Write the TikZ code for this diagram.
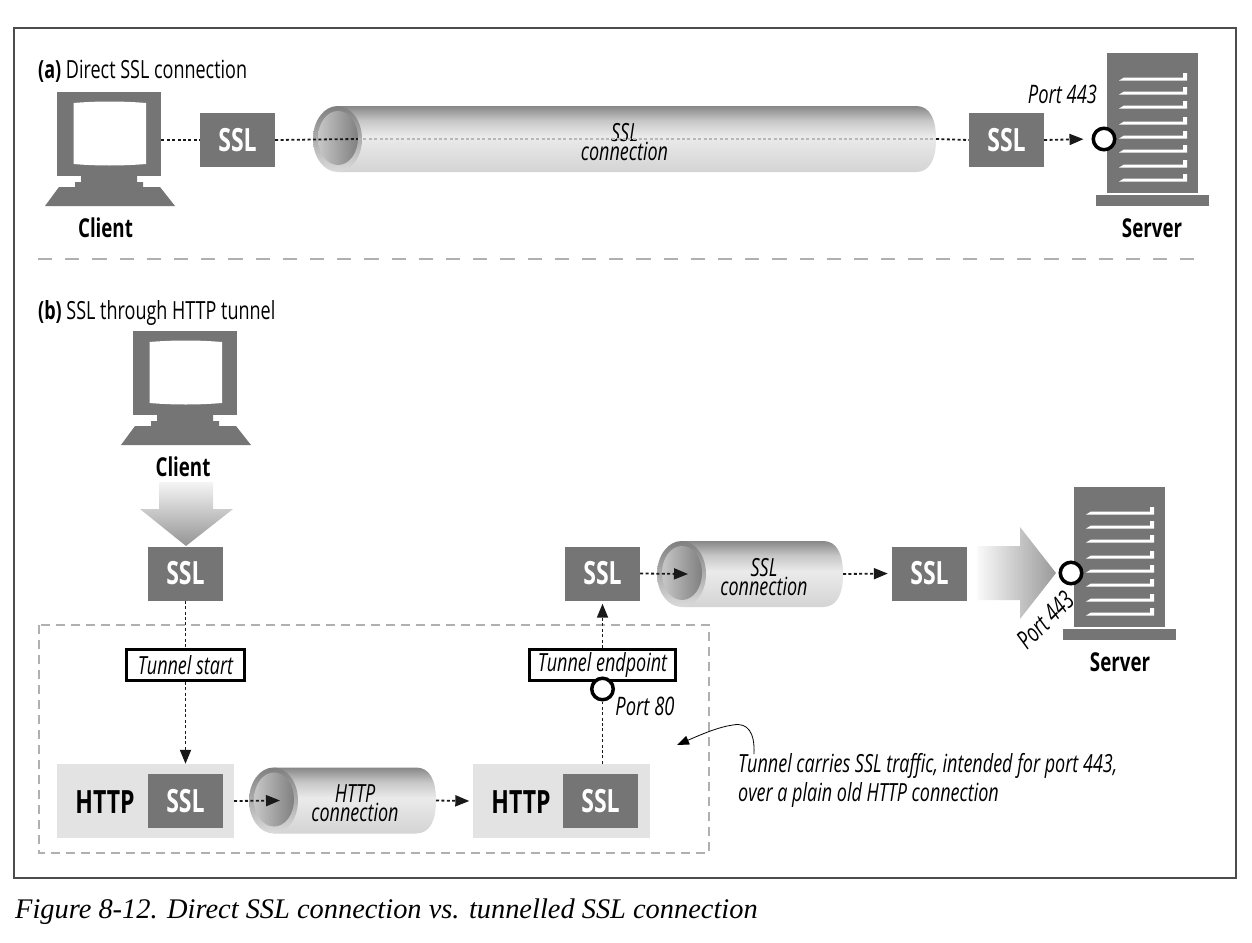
\documentclass[tikz,border=0pt]{standalone}
\usepackage{fontspec}
\usetikzlibrary{arrows.meta,calc}
\newfontfamily\cnd[FakeStretch=0.72]{Open Sans}
\setmainfont{Liberation Serif}
\definecolor{boxgray}{HTML}{757575}
\definecolor{bggray}{HTML}{E3E3E3}
\definecolor{dashgray}{HTML}{B0B0B0}
\pgfdeclareverticalshading{tubeshade}{100bp}{color(0bp)=(black!17);color(25bp)=(black!17);color(52bp)=(black!8);color(64bp)=(black!22);color(75bp)=(black!47);color(100bp)=(black!47)}
\tikzset{
  sslbox/.style={fill=boxgray,text=white,minimum width=75pt,minimum height=54pt,inner sep=0pt,font=\cnd\bfseries\fontsize{32}{32}\selectfont},
  httpbox/.style={fill=bggray,minimum width=177pt,minimum height=74pt,inner sep=0pt},
  httptext/.style={font=\cnd\bfseries\fontsize{32}{32}\selectfont,inner sep=0pt},
  monitor/.style={fill=boxgray,minimum width=104pt,minimum height=84pt,inner sep=0pt},
  serverbody/.style={fill=boxgray,minimum width=91pt,minimum height=140pt,inner sep=0pt},
  hostlabel/.style={font=\cnd\bfseries\fontsize{26}{26}\selectfont,inner sep=0pt},
  heading/.style={font=\cnd\fontsize{25}{25}\selectfont,inner sep=0pt,anchor=west},
  itlabel/.style={font=\cnd\itshape\fontsize{25.5}{25.5}\selectfont,inner sep=0pt},
  tubetext/.style={font=\cnd\itshape\fontsize{25}{17}\selectfont,inner sep=0pt,align=center},
  tunnelbox/.style={draw=black,line width=3pt,fill=white,minimum height=31pt,inner sep=0pt,font=\cnd\itshape\fontsize{25}{25}\selectfont},
  portc/.style={circle,draw=black,line width=3.5pt,fill=white,minimum size=21.5pt,inner sep=0pt},
  dotline/.style={line width=1.8pt,dash pattern=on 3pt off 2.4pt,black!90},
  dotlight/.style={line width=1.8pt,dash pattern=on 3pt off 2.4pt,black!28},
  tip/.style={-{Triangle[length=14pt,width=11pt]}},
  sepdash/.style={line width=1.5pt,dashgray,dash pattern=on 14.2pt off 13pt},
  boxdash/.style={line width=1.3pt,dashgray,dash pattern=on 9pt off 6pt},
}
% client: monitor node named #1 with its top-left corner at (#2,#3)
\newcommand{\clientpc}[3]{%
  \begin{scope}[shift={(#2,#3)}]
    \fill[boxgray] (24,84) -- (24,90) -- (18,90) -- (18,95) -- (2,95) -- (-12,114) -- (118,114) -- (103,95) -- (86,95) -- (86,90) -- (80,90) -- (80,84) -- cycle;
    \node[monitor,anchor=north west] (#1) at (0,0) {};
    \fill[white] (16.5,11) .. controls (40,9) and (65,9) .. (89,11) -- (89,72) .. controls (65,74) and (40,74) .. (16.5,72) -- cycle;
  \end{scope}}
% server: body node named #1 with its top-left corner at (#2,#3)
\newcommand{\serverbox}[3]{%
  \begin{scope}[shift={(#2,#3)}]
    \fill[boxgray] (-11,142) rectangle (102,153);
    \node[serverbody,anchor=north west] (#1) at (0,0) {};
    \foreach \yy in {25,39,53,69,83,97,112,126}{
      \fill[white] (12,\yy+2.5) -- (17,\yy-0.5) -- (76,\yy-0.5) -- (76,\yy-5) -- (80,\yy-5) -- (80,\yy+2.5) -- cycle;
    }
  \end{scope}}
% tube: #1 name, #2 left x, #3 right x, #4 centre y, #5 text, #6 text centre x
\newcommand{\tube}[6]{%
  \shade[shading=tubeshade] (#2+24.5,#4-33) -- (#3-20,#4-33) .. controls (#3-6,#4-33) and (#3,#4-20) .. (#3,#4) .. controls (#3,#4+20) and (#3-6,#4+33) .. (#3-20,#4+33) -- (#2+24.5,#4+33) -- cycle;
  \shade[top color=black!50,bottom color=black!14] (#2+24.5,#4) ellipse [x radius=24.5pt,y radius=33pt];
  \shade[left color=black!22,right color=black!50] (#2+25,#4-1) ellipse [x radius=20pt,y radius=27pt];
  \coordinate (#1 in) at (#2+45,#4);
  \coordinate (#1 east) at (#3,#4);
  \coordinate (#1 tip) at (#2+31,#4);
  \node[tubetext] (#1) at (#6,#4+3) {#5};
}
\begin{document}
\begin{tikzpicture}[x=1pt,y=-1pt]
\useasboundingbox (0,0) rectangle (1252,942);
\fill[white] (0,0) rectangle (1252,942);
\draw[line width=1.3pt,black!70] (14,28) rectangle (1236,878);

% ---- part (a)
\node[heading] (heada) at (38,71) {\textbf{(a)} Direct SSL connection};
\clientpc{pcA}{57}{92}
\node[hostlabel] (labclientA) at (105.5,228) {Client};
\node[sslbox] (sslA1) at (237.5,140) {SSL};
\node[sslbox] (sslA2) at (1006.5,140) {SSL};
\tube{tubeA}{313}{936}{139}{SSL\\connection}{624.5}
\serverbox{srvA}{1107}{53}
\node[hostlabel] (labsrvA) at (1152,228) {Server};
\node[portc] (portA) at (1104,139) {};
\node[itlabel] (lab443A) at (1062.5,94) {Port 443};
\draw[dotline] (pcA.east |- sslA1.west) -- (sslA1.west);
\draw[dotline] (sslA1.east) -- (tubeA in);
\draw[dotlight] (tubeA in) -- (tubeA east);
\draw[dotline] (tubeA east) -- (sslA2.west);
\draw[dotline,tip,shorten >=8pt] (sslA2.east) -- (portA.west);

\draw[sepdash] (38,259) -- (1194,259);

% ---- part (b)
\node[heading] (headb) at (38,313) {\textbf{(b)} SSL through HTTP tunnel};
\clientpc{pcB}{133}{331}
\node[hostlabel] (labclientB) at (183,467) {Client};
\shade[top color=black!4,bottom color=black!42] (159,482) -- (213,482) -- (213,509) -- (233,509) -- (186,546) -- (140,509) -- (159,509) -- cycle;
\node[sslbox] (sslB) at (185.5,573.5) {SSL};
\draw[boxdash] (39,625) rectangle (709,853);
\node[httpbox] (httpL) at (145.5,801) {};
\node[sslbox] (sslL) at (185.5,801) {SSL};
\node[httptext] (httpLt) at (105,802.5) {HTTP};
\node[httpbox] (httpR) at (561,801) {};
\node[sslbox] (sslR) at (600.5,801) {SSL};
\node[httptext] (httpRt) at (521,802.5) {HTTP};
\tube{tubeH}{249}{436}{800.5}{HTTP\\connection}{355}
\tube{tubeS}{657}{843}{574}{SSL\\connection}{764}
\node[sslbox] (sslU) at (602.5,573.5) {SSL};
\node[sslbox] (sslV) at (929.5,573.5) {SSL};
\shade[left color=black!2,right color=black!40] (977,546) -- (1020,546) -- (1020,527) -- (1056,573) -- (1020,619) -- (1020,600) -- (977,600) -- cycle;
\serverbox{srvB}{1074}{487}
\node[hostlabel] (labsrvB) at (1120,662) {Server};
\node[portc] (portB) at (1071,573) {};
\node[itlabel,rotate=45] (lab443B) at (1045,620) {Port 443};

\node[tunnelbox,minimum width=118pt] (tstart) at (185.5,665) {Tunnel start};
\node[tunnelbox,minimum width=146pt] (tend) at (602.5,665) {Tunnel endpoint};
\node[portc] (port80) at (602.5,689) {};
\node[itlabel] (lab80) at (645,706) {Port 80};

\draw[dotline] (sslB.south) -- (tstart.north);
\draw[dotline,tip] (tstart.south) -- (tstart.south |- httpL.north);
\draw[dotline,tip] (sslL.east -| httpL.east) -- (tubeH tip);
\draw[dotline,tip] (tubeH east) -- ($(httpR.west)+(-3,0)$);
\draw[dotline] (httpR.north -| port80.south) -- (port80.south);
\draw[dotline,tip,shorten >=3pt] (tend.north) -- (sslU.south);
\draw[dotline,tip] (sslU.east) -- (tubeS tip);
\draw[dotline,tip,shorten >=4pt] (tubeS east) -- (sslV.west);

\node[font=\cnd\itshape\fontsize{25}{29}\selectfont,inner sep=0pt,anchor=west,align=left] (note) at (738,780) {Tunnel carries SSL traffic, intended for port 443,\\over a plain old HTTP connection};
\coordinate (curveS) at (754,754);
\coordinate (curveE) at (677,745);
\draw[line width=0.8pt,-{Triangle[length=12pt,width=9pt]}] (curveS) .. controls (755,733) and (748,722) .. (733,725) .. controls (718,727) and (700,735) .. (curveE);

\node[font=\itshape\fontsize{28.4}{29}\selectfont,inner sep=0pt,anchor=base west] (caption) at (15,918) {Figure 8-12. Direct SSL connection vs. tunnelled SSL connection};
\end{tikzpicture}
\end{document}
